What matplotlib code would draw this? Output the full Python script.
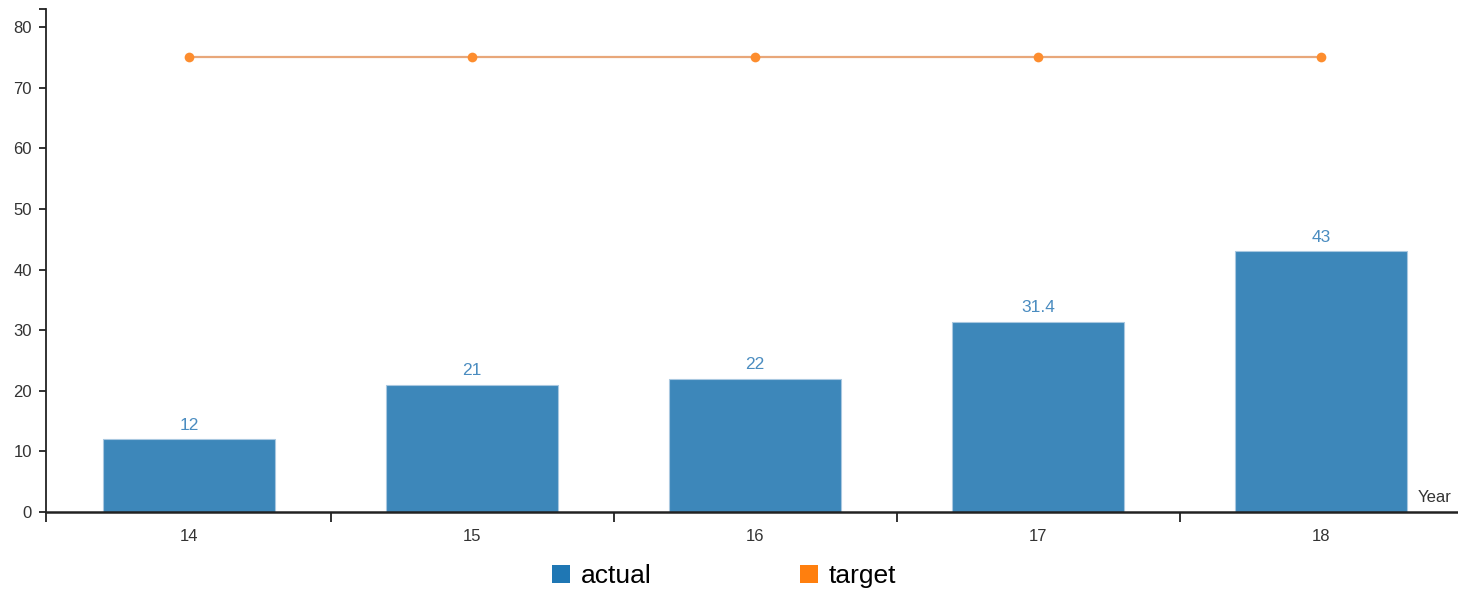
import numpy as np
import matplotlib
matplotlib.use('Agg')
import matplotlib.pyplot as plt
from matplotlib.patches import Patch

plt.rcParams['font.family'] = ['Liberation Sans', 'DejaVu Sans']

years = ['14', '15', '16', '17', '18']
actual = [12, 21, 22, 31.4, 43]
target = [75, 75, 75, 75, 75]

W, H = 1458, 593
band = 283.0
fig = plt.figure(figsize=(W / 100, H / 100), dpi=100)
ax = fig.add_axes([46 / W, 81 / H, (W - 46) / W, 503 / H])

x = np.arange(len(years))
ax.bar(x, actual, width=0.608, color='#3d87ba', edgecolor='#a9c8e0',
       linewidth=0.8, zorder=2)
for xi, v in zip(x, actual):
    ax.text(xi, v + 1.1, '{:g}'.format(v), ha='center', va='bottom',
            fontsize=12.5, color='#4a8cc0')

ax.plot(x, target, color='#e8a77a', lw=1.6, zorder=3)
ax.plot(x, target, 'o', color='#fd8d2e', ms=7, mec='none', zorder=4)

left = -(189 - 46) / band
ax.set_xlim(left, left + (W - 46) / band)
ax.set_ylim(0, 83)

# band boundaries as ticks, labels at band centres
ax.set_xticks([left, 0.5, 1.5, 2.5, 3.5])
ax.set_xticklabels([])
ax.set_xticks(x, minor=True)
ax.set_xticklabels(years, minor=True)
ax.tick_params(axis='x', which='major', direction='out', length=7, width=1.3,
               color='#222222')
ax.tick_params(axis='x', which='minor', length=0, pad=12, labelsize=12,
               labelcolor='#333333')

ax.set_yticks(np.arange(0, 81, 10))
ax.set_yticks([83], minor=True)
ax.tick_params(axis='y', which='major', direction='out', length=5, width=1.3,
               pad=5, labelsize=12, labelcolor='#333333', color='#222222')
ax.tick_params(axis='y', which='minor', direction='out', length=5, width=1.3,
               color='#222222')

for s in ['top', 'right']:
    ax.spines[s].set_visible(False)
ax.spines['left'].set_linewidth(1.3)
ax.spines['bottom'].set_linewidth(1.8)
ax.spines['bottom'].set_zorder(5)
ax.spines['left'].set_color('#222222')
ax.spines['bottom'].set_color('#222222')

fig.text(1452 / W, (H - 502) / H, 'Year', ha='right', va='baseline',
         fontsize=12, color='#333333')

handles = [Patch(facecolor='#1f77b4', edgecolor='none', label='actual'),
           Patch(facecolor='#ff7f0e', edgecolor='none', label='target')]
fig.legend(handles=handles, loc='center', bbox_to_anchor=(724 / W, 17 / H),
           ncol=2, frameon=False, handlelength=0.7, handleheight=0.7,
           handletextpad=0.4, columnspacing=5.6,
           prop={'family': ['Liberation Sans'], 'size': 19})

fig.savefig('out.png', dpi=100)
